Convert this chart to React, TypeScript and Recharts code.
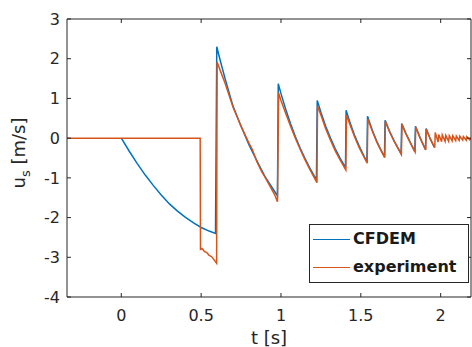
import React from "react";
import { LineChart, Line, XAxis, YAxis, Legend } from "recharts";

// CFDEM simulation (t in s, u_s in m/s)
const cfdemT = [
    0, 0.05, 0.1, 0.15, 0.2, 0.25, 0.3, 0.35, 0.4, 0.45, 0.5, 0.55, 0.59,
    0.598, 0.62, 0.65, 0.7, 0.75, 0.8, 0.85, 0.9, 0.95, 0.978,
    0.983, 1.0, 1.03, 1.06, 1.09, 1.12, 1.15, 1.18, 1.222,
    1.227, 1.25, 1.28, 1.31, 1.34, 1.37, 1.404,
    1.408, 1.43, 1.46, 1.49, 1.51, 1.538,
    1.542, 1.57, 1.6, 1.625, 1.648,
    1.652, 1.68, 1.71, 1.752,
    1.756, 1.78, 1.81, 1.838,
    1.842, 1.87, 1.905,
    1.909, 1.935, 1.96,
];
const cfdemU = [
    0, -0.33, -0.64, -0.93, -1.19, -1.43, -1.65, -1.83, -1.99, -2.13, -2.25, -2.34, -2.4,
    2.3, 1.95, 1.5, 0.8, 0.3, -0.17, -0.58, -0.97, -1.28, -1.45,
    1.37, 1.12, 0.72, 0.36, 0.04, -0.25, -0.51, -0.75, -1.05,
    0.95, 0.65, 0.3, 0.0, -0.27, -0.5, -0.74,
    0.7, 0.42, 0.08, -0.2, -0.37, -0.6,
    0.55, 0.22, -0.08, -0.29, -0.47,
    0.45, 0.17, -0.08, -0.39,
    0.37, 0.14, -0.11, -0.34,
    0.3, 0.02, -0.29,
    0.24, -0.02, -0.23,
];

// experiment
const expT = [
    -0.34, 0.494, 0.496, 0.505, 0.52, 0.535, 0.55, 0.565, 0.58, 0.597,
    0.6, 0.62, 0.65, 0.7, 0.75, 0.8, 0.82, 0.85, 0.88, 0.9, 0.93, 0.96, 0.978,
    0.985, 1.0, 1.03, 1.06, 1.09, 1.12, 1.15, 1.18, 1.225,
    1.229, 1.25, 1.28, 1.31, 1.34, 1.37, 1.406,
    1.41, 1.43, 1.46, 1.49, 1.51, 1.54,
    1.544, 1.57, 1.6, 1.625, 1.65,
    1.654, 1.68, 1.71, 1.754,
    1.758, 1.78, 1.81, 1.84,
    1.844, 1.87, 1.906,
    1.91, 1.935, 1.963,
    1.966, 1.984, 1.988, 2.006, 2.01, 2.028, 2.032, 2.05, 2.054, 2.072,
    2.076, 2.094, 2.098, 2.116, 2.12, 2.138, 2.142, 2.16, 2.164, 2.182, 2.19,
];
const expU = [
    0, 0, -2.8, -2.78, -2.85, -2.88, -2.95, -2.98, -3.06, -3.15,
    1.92, 1.7, 1.38, 0.78, 0.3, -0.13, -0.28, -0.6, -0.85, -0.98, -1.2, -1.42, -1.6,
    1.14, 0.95, 0.62, 0.3, 0.0, -0.28, -0.54, -0.78, -1.12,
    0.81, 0.58, 0.24, -0.05, -0.32, -0.55, -0.8,
    0.58, 0.36, 0.04, -0.24, -0.4, -0.63,
    0.48, 0.2, -0.1, -0.3, -0.49,
    0.42, 0.16, -0.09, -0.41,
    0.35, 0.13, -0.12, -0.35,
    0.28, 0.02, -0.3,
    0.23, -0.02, -0.24,
    0.14, -0.1, 0.09, -0.09, 0.08, -0.08, 0.07, -0.08, 0.06, -0.07,
    0.06, -0.06, 0.05, -0.06, 0.05, -0.05, 0.04, -0.05, 0.04, -0.04, 0.0,
];

const xTicks = [0, 0.5, 1, 1.5, 2];
const yTicks = [-4, -3, -2, -1, 0, 1, 2, 3];
const xDomain = [-0.34, 2.19];
const yDomain = [-4, 3];
const seriesNames = ["CFDEM", "experiment"];
const seriesColors = ["#0072BD", "#D95319"];

const cfdemData = cfdemT.map((t, i) => ({ t, u: cfdemU[i] }));
const expData = expT.map((t, i) => ({ t, u: expU[i] }));

const axisColor = "#262626";
const font = "DejaVu Sans";
const tickStyle = { fill: axisColor, fontSize: 16, fontFamily: font };
const noLabel = () => "";

function YLabel({ viewBox }: any) {
    const cx = viewBox.x + 25;
    const cy = viewBox.y + viewBox.height / 2 - 5;
    return (
        <text
            x={cx}
            y={cy}
            transform={`rotate(-90 ${cx} ${cy})`}
            textAnchor="middle"
            fill={axisColor}
            fontSize={18}
            fontFamily={font}
        >
            u
            <tspan fontSize={13} dy={5}>s</tspan>
            <tspan dy={-5}> [m/s]</tspan>
        </text>
    );
}

function LegendBox() {
    return (
        <div
            style={{
                border: `1px solid ${axisColor}`,
                background: "#fff",
                width: 158,
                height: 57,
                fontFamily: font,
                fontWeight: "bold",
                fontSize: 16,
                color: "#1a1a1a",
                lineHeight: "28px",
            }}
        >
            {seriesNames.map((name, i) => (
                <div key={name} style={{ display: "flex", alignItems: "center", height: 28 }}>
                    <span
                        style={{
                            display: "inline-block",
                            width: 37,
                            borderTop: `1.5px solid ${seriesColors[i]}`,
                            marginLeft: 3,
                            marginRight: 3,
                        }}
                    />
                    <span>{name}</span>
                </div>
            ))}
        </div>
    );
}

export default function App() {
    return (
        <div style={{ position: "absolute", left: 0, top: 0, background: "#fff" }}>
            <LineChart
                width={472}
                height={347}
                margin={{ top: 15, right: -3, left: 0, bottom: 0 }}
                style={{ fontFamily: font }}
            >
                <XAxis
                    dataKey="t"
                    type="number"
                    domain={xDomain}
                    ticks={xTicks}
                    allowDataOverflow
                    height={50}
                    stroke={axisColor}
                    tickSize={-4}
                    tickMargin={17}
                    tick={tickStyle}
                    label={{
                        value: "t [s]",
                        position: "insideBottom",
                        offset: 3,
                        fill: axisColor,
                        fontSize: 18,
                        fontFamily: font,
                    }}
                />
                <XAxis
                    xAxisId="top"
                    orientation="top"
                    dataKey="t"
                    type="number"
                    domain={xDomain}
                    ticks={xTicks}
                    allowDataOverflow
                    height={4}
                    stroke={axisColor}
                    tickSize={-4}
                    tickFormatter={noLabel}
                />
                <YAxis
                    type="number"
                    domain={yDomain}
                    ticks={yTicks}
                    allowDataOverflow
                    width={67}
                    stroke={axisColor}
                    tickSize={-4}
                    tickMargin={11}
                    tick={tickStyle}
                    label={<YLabel />}
                />
                <YAxis
                    yAxisId="right"
                    orientation="right"
                    type="number"
                    domain={yDomain}
                    ticks={yTicks}
                    allowDataOverflow
                    width={4}
                    stroke={axisColor}
                    tickSize={-4}
                    tickFormatter={noLabel}
                />
                <Line
                    data={cfdemData}
                    dataKey="u"
                    name={seriesNames[0]}
                    stroke={seriesColors[0]}
                    strokeWidth={1.5}
                    dot={false}
                    isAnimationActive={false}
                />
                <Line
                    data={expData}
                    xAxisId="top"
                    yAxisId="right"
                    dataKey="u"
                    name={seriesNames[1]}
                    stroke={seriesColors[1]}
                    strokeWidth={1.5}
                    dot={false}
                    isAnimationActive={false}
                />
                <Legend
                    layout="vertical"
                    align="center"
                    verticalAlign="middle"
                    content={<LegendBox />}
                    wrapperStyle={{ left: 309, top: 224, width: 160, height: 59 }}
                />
            </LineChart>
        </div>
    );
}
